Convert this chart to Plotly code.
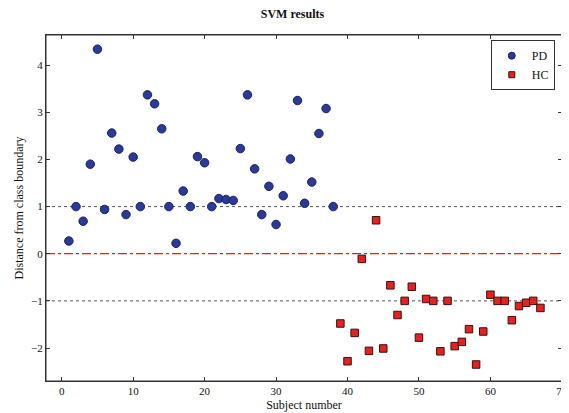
import plotly.graph_objects as go

pd_subjects = list(range(1, 39))
pd_values = [0.27, 1.00, 0.69, 1.90, 4.34, 0.94, 2.56, 2.22, 0.83, 2.05,
             1.00, 3.37, 3.18, 2.65, 1.00, 0.22, 1.33, 1.00, 2.06, 1.93,
             1.00, 1.17, 1.15, 1.13, 2.23, 3.37, 1.80, 0.83, 1.43, 0.62,
             1.23, 2.01, 3.25, 1.07, 1.52, 2.55, 3.08, 1.00]

hc_subjects = list(range(39, 68))
hc_values = [-1.48, -2.28, -1.68, -0.11, -2.06, 0.71, -2.01, -0.67, -1.30, -1.00,
             -0.70, -1.78, -0.96, -1.00, -2.07, -1.00, -1.96, -1.87, -1.60, -2.35,
             -1.65, -0.87, -1.00, -1.00, -1.41, -1.11, -1.04, -1.00, -1.15]

margin_levels = [1, -1]
boundary_level = 0
x_ticks = [0, 10, 20, 30, 40, 50, 60, 70]
y_ticks = [-2, -1, 0, 1, 2, 3, 4]

font_family = "Liberation Serif, Times New Roman, serif"
pd_color, pd_edge = "#2a3a96", "#1a2260"
hc_color, hc_edge = "#e42222", "#3a1010"

fig = go.Figure()
fig.add_trace(go.Scatter(
    x=pd_subjects, y=pd_values, mode="markers", name="PD", showlegend=False,
    marker=dict(symbol="circle", size=8.5, color=pd_color, line=dict(color=pd_edge, width=1)),
))
fig.add_trace(go.Scatter(
    x=hc_subjects, y=hc_values, mode="markers", name="HC", showlegend=False,
    marker=dict(symbol="square", size=7.5, color=hc_color, line=dict(color=hc_edge, width=1)),
))
# legend entries (smaller symbols as in the reference)
fig.add_trace(go.Scatter(
    x=[None], y=[None], mode="markers", name="PD",
    marker=dict(symbol="circle", size=7, color=pd_color, line=dict(color=pd_edge, width=1)),
))
fig.add_trace(go.Scatter(
    x=[None], y=[None], mode="markers", name="HC",
    marker=dict(symbol="square", size=6, color=hc_color, line=dict(color=hc_edge, width=1)),
))

for lv in margin_levels:
    fig.add_shape(type="line", xref="paper", x0=0, x1=1, yref="y", y0=lv, y1=lv,
                  line=dict(color="#555555", width=1, dash="dot"), layer="below")
fig.add_shape(type="line", xref="paper", x0=0, x1=1, yref="y", y0=boundary_level, y1=boundary_level,
              line=dict(color="#e02020", width=1.3, dash="dashdot"), layer="below")
fig.add_shape(type="rect", xref="paper", yref="paper", x0=0, x1=1, y0=0, y1=1,
              line=dict(color="#333333", width=1), layer="above")

axis_common = dict(
    showline=True, linecolor="#333333", linewidth=1, mirror="allticks",
    ticks="inside", ticklen=4, tickcolor="#333333", showgrid=False, zeroline=False,
    tickfont=dict(family=font_family, size=11, color="#111111"),
)

fig.update_layout(
    width=569, height=413,
    paper_bgcolor="white", plot_bgcolor="white",
    margin=dict(l=38, r=9, t=27, b=40),
    title=dict(text="<b>SVM results</b>", x=0.5, xanchor="center", y=0.995, yanchor="top",
               font=dict(family=font_family, size=12, color="#111111")),
    xaxis=dict(range=[-2.2, 70.02], tickvals=x_ticks, ticklabeloverflow="allow",
               title=dict(text="Subject number", standoff=4,
                          font=dict(family=font_family, size=12, color="#111111")),
               **axis_common),
    yaxis=dict(range=[-2.7, 4.64], tickvals=y_ticks,
               title=dict(text="Distance from class boundary", standoff=4,
                          font=dict(family=font_family, size=12, color="#111111")),
               **axis_common),
    legend=dict(x=0.862, y=0.985, xanchor="left", yanchor="top",
                bgcolor="white", bordercolor="#333333", borderwidth=1,
                font=dict(family=font_family, size=12, color="#111111"),
                tracegroupgap=0, itemwidth=30),
    showlegend=True,
)

fig.write_html("out.html")
